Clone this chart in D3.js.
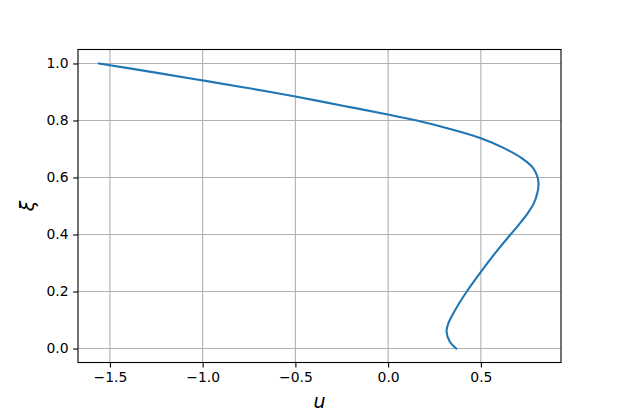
<!DOCTYPE html>
<html>
<head>
<meta charset="utf-8">
<script src="https://cdn.jsdelivr.net/npm/d3@7"></script>
<style>
  body { margin: 0; background: #fff; }
  svg { display: block; }
  .tick text { font-family: "DejaVu Sans", sans-serif; font-size: 13.9px; fill: #000; }
</style>
</head>
<body>
<div id="chart"></div>
<script>
// profile: xi (vertical) and u (horizontal)
var xi = [0.000, 0.025, 0.060, 0.089, 0.130, 0.200, 0.270, 0.346, 0.400, 0.434,
          0.475, 0.510, 0.545, 0.574, 0.600, 0.633, 0.662, 0.703, 0.738, 0.773,
          0.800, 0.820, 0.852, 0.884, 0.912, 0.939, 0.967, 1.000];
var u  = [0.367, 0.332, 0.315, 0.325, 0.357, 0.424, 0.501, 0.591, 0.660, 0.704,
          0.753, 0.786, 0.804, 0.811, 0.806, 0.782, 0.733, 0.625, 0.500, 0.318,
          0.155, 0.005, -0.245, -0.500, -0.740, -0.985, -1.245, -1.559];
var xTicks = [-1.5, -1.0, -0.5, 0.0, 0.5];
var yTicks = [0.0, 0.2, 0.4, 0.6, 0.8, 1.0];

var margin = {top: 49.5, right: 62, bottom: 52.5, left: 78},
    width = 623 - margin.left - margin.right,
    height = 415 - margin.top - margin.bottom;

var svg = d3.select("#chart")
  .append("svg")
    .attr("width", 623)
    .attr("height", 415)
  .append("g")
    .attr("transform", "translate(" + margin.left + "," + margin.top + ")");

var x = d3.scaleLinear()
  .domain([-1.672, 0.932])
  .range([0, width]);

var y = d3.scaleLinear()
  .domain([-0.049, 1.049])
  .range([height, 0]);

var fmt = function(d) { return d3.format(".1f")(d).replace("-", "\u2212"); };

// grid
svg.append("g")
  .selectAll("line")
  .data(xTicks)
  .enter()
  .append("line")
    .attr("x1", d => x(d)).attr("x2", d => x(d))
    .attr("y1", 0).attr("y2", height)
    .attr("stroke", "#b0b0b0").attr("stroke-width", 1.1);

svg.append("g")
  .selectAll("line")
  .data(yTicks)
  .enter()
  .append("line")
    .attr("x1", 0).attr("x2", width)
    .attr("y1", d => y(d)).attr("y2", d => y(d))
    .attr("stroke", "#b0b0b0").attr("stroke-width", 1.1);

// axes
var xAxis = svg.append("g")
  .attr("transform", "translate(0," + height + ")")
  .call(d3.axisBottom(x).tickValues(xTicks).tickFormat(fmt).tickSize(4.9).tickPadding(4.5));

var yAxis = svg.append("g")
  .call(d3.axisLeft(y).tickValues(yTicks).tickFormat(fmt).tickSize(4.9).tickPadding(4.5));

[xAxis, yAxis].forEach(function(a) {
  a.select(".domain").remove();
  a.selectAll(".tick line").attr("stroke", "#000").attr("stroke-width", 1.1);
});

// curve
var pts = xi.map((v, i) => [u[i], v]);
svg.append("path")
  .datum(pts)
  .attr("fill", "none")
  .attr("stroke", "#1f77b4")
  .attr("stroke-width", 2.1)
  .attr("stroke-linecap", "square")
  .attr("d", d3.line()
    .x(d => x(d[0]))
    .y(d => y(d[1]))
    .curve(d3.curveCatmullRom.alpha(0.5)));

// frame
svg.append("rect")
  .attr("x", 0).attr("y", 0)
  .attr("width", width).attr("height", height)
  .attr("fill", "none")
  .attr("stroke", "#000")
  .attr("stroke-width", 1.1);

// labels
svg.append("text")
  .attr("x", width / 2)
  .attr("y", height + 45)
  .attr("text-anchor", "middle")
  .style("font-family", "DejaVu Sans, sans-serif")
  .style("font-style", "italic")
  .style("font-size", "19px")
  .text("u");

svg.append("text")
  .attr("transform", "translate(" + (-44) + "," + (height / 2) + ") rotate(-90)")
  .attr("text-anchor", "middle")
  .style("font-family", "DejaVu Sans, sans-serif")
  .style("font-style", "italic")
  .style("font-size", "19px")
  .text("\u03be");
</script>
</body>
</html>
